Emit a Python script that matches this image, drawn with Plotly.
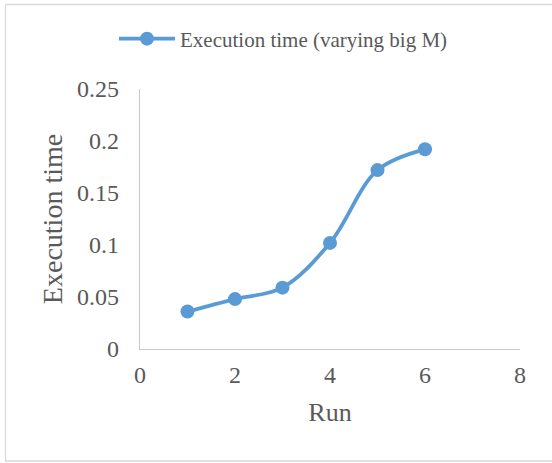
import plotly.graph_objects as go

runs = [1, 2, 3, 4, 5, 6]
exec_time = [0.036, 0.048, 0.059, 0.102, 0.172, 0.192]
series_name = "Execution time (varying big M)"
x_ticks = [0, 2, 4, 6, 8]
y_ticks = [0, 0.05, 0.1, 0.15, 0.2, 0.25]
y_tick_text = ["0", "0.05", "0.1", "0.15", "0.2", "0.25"]

FONT = "Liberation Serif, Times New Roman, serif"
GRAY = "#595959"
BLUE = "#5B9BD5"

L, R, T, B = 140, 32, 89, 114
W, H = 552, 463
pw, ph = W - L - R, H - T - B

def px2paper_x(px):
    return (px - L) / pw

def px2paper_y(py):
    return (H - B - py) / ph

fig = go.Figure()
fig.add_trace(go.Scatter(
    x=runs, y=exec_time, name=series_name,
    mode="lines+markers",
    line=dict(color=BLUE, width=3.8, shape="spline", smoothing=1.0),
    marker=dict(color=BLUE, size=14),
))

fig.update_layout(
    width=W, height=H,
    margin=dict(l=L, r=R, t=T, b=B),
    paper_bgcolor="white", plot_bgcolor="white",
    font=dict(family=FONT, color=GRAY),
    showlegend=True,
    legend=dict(
        orientation="h", xref="container", yref="container",
        x=114 / W, xanchor="left", y=1 - 39 / H, yanchor="middle",
        font=dict(size=21, family=FONT, color=GRAY),
        itemwidth=56, bgcolor="rgba(0,0,0,0)",
    ),
    xaxis=dict(
        range=[0, 8], tickvals=x_ticks, ticktext=[str(v) for v in x_ticks],
        showgrid=False, zeroline=False,
        showline=True, linecolor="#c8c8c8", linewidth=1.3,
        ticks="", ticklabelstandoff=4,
        tickfont=dict(size=24, family=FONT, color=GRAY),
        title=dict(text="Run", font=dict(size=26, family=FONT, color=GRAY), standoff=15),
    ),
    yaxis=dict(
        range=[0, 0.25], tickvals=y_ticks, ticktext=y_tick_text,
        showgrid=False, zeroline=False,
        showline=True, linecolor="#c8c8c8", linewidth=1.3,
        ticks="", ticklabelstandoff=15,
        tickfont=dict(size=24, family=FONT, color=GRAY),
        title=dict(text="Execution time", font=dict(size=28, family=FONT, color=GRAY), standoff=6),
    ),
    shapes=[dict(
        type="rect", xref="paper", yref="paper",
        x0=px2paper_x(5.5), x1=px2paper_x(575), y0=px2paper_y(461), y1=px2paper_y(4.5),
        line=dict(color="#d9d9d9", width=1.3), fillcolor="rgba(0,0,0,0)", layer="below",
    )],
)

fig.write_html("out.html")
